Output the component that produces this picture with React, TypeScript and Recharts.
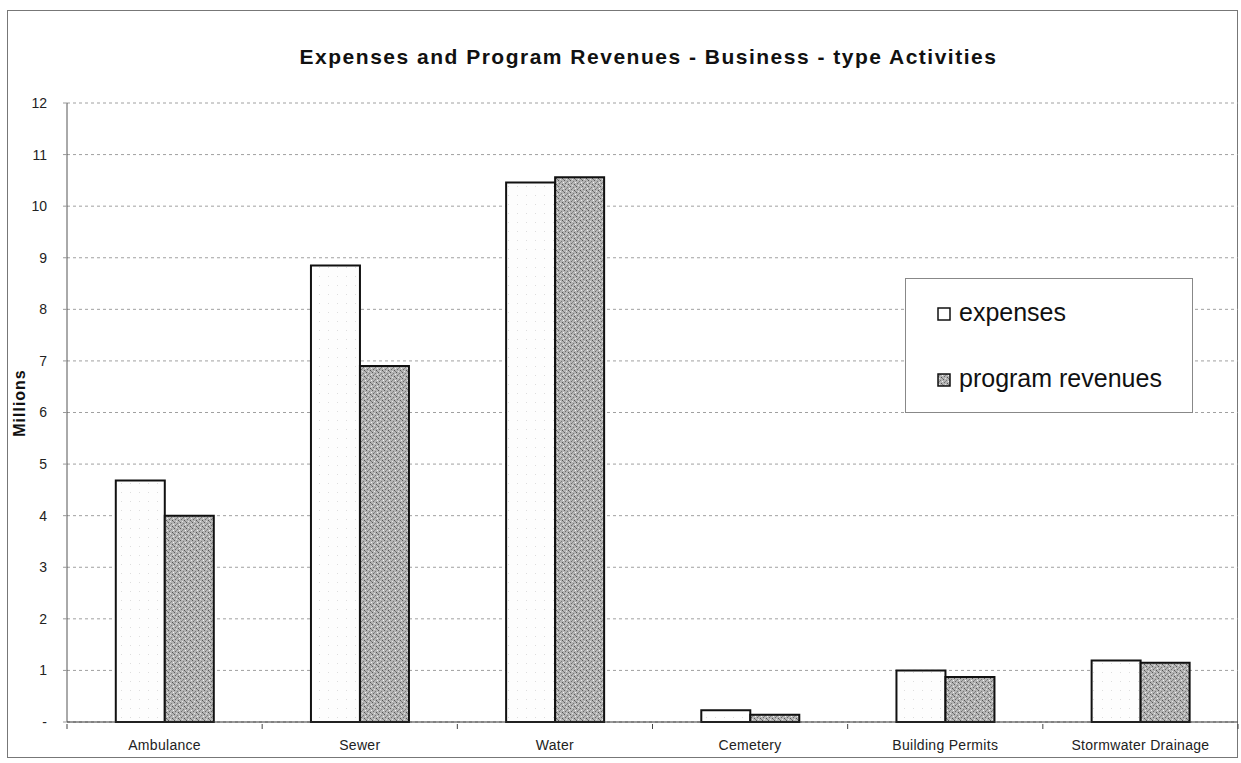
import React from 'react';
import { BarChart, Bar, XAxis, YAxis, CartesianGrid, Legend } from 'recharts';

const categories = ['Ambulance', 'Sewer', 'Water', 'Cemetery', 'Building Permits', 'Stormwater Drainage'];
const expenses = [4.68, 8.85, 10.46, 0.23, 1.0, 1.19];
const programRevenues = [4.0, 6.9, 10.56, 0.14, 0.87, 1.15];
const yTicks = [0, 1, 2, 3, 4, 5, 6, 7, 8, 9, 10, 11, 12];

const data = categories.map((name, i) => ({
  name,
  expenses: expenses[i],
  revenues: programRevenues[i],
}));

const FONT = '"Liberation Sans", Arial, sans-serif';

// x-axis tick: label under the category, tick marks on the category boundaries
const CategoryTick = (props: any) => {
  const { x, y, payload, index, visibleTicksCount, width } = props;
  const half = width / visibleTicksCount / 2;
  return (
    <g>
      <line x1={x - half} y1={y - 6} x2={x - half} y2={y - 1} stroke="#444" />
      {index === visibleTicksCount - 1 && (
        <line x1={x + half} y1={y - 6} x2={x + half} y2={y - 1} stroke="#444" />
      )}
      <text x={x} y={y + 20} textAnchor="middle" fontSize={14} fill="#222" fontFamily={FONT} letterSpacing={0.3}>
        {payload.value}
      </text>
    </g>
  );
};

const Swatch = ({ fill }: { fill: string }) => (
  <svg width={14} height={14} style={{ marginRight: 8, marginTop: 3, flex: 'none' }}>
    <rect x={1} y={1} width={12} height={12} fill={fill} stroke="#111" strokeWidth={1.5} />
  </svg>
);

const LegendBox = () => (
  <div
    style={{
      width: 288,
      height: 135,
      border: '1px solid #888',
      background: '#fff',
      boxSizing: 'border-box',
      fontFamily: FONT,
      fontSize: 25,
      color: '#111',
      paddingLeft: 31,
      paddingTop: 18,
    }}
  >
    <div style={{ display: 'flex', alignItems: 'center', height: 30 }}>
      <Swatch fill="#fff" />
      expenses
    </div>
    <div style={{ display: 'flex', alignItems: 'center', height: 30, marginTop: 36 }}>
      <Swatch fill="url(#stipple)" />
      program revenues
    </div>
  </div>
);

export default function App() {
  return (
    <div style={{ position: 'absolute', left: 0, top: 0, width: 1241, height: 763, background: '#fff' }}>
      <div
        style={{
          position: 'absolute',
          left: 7,
          top: 10,
          width: 1231,
          height: 748,
          border: '1px solid #777',
          boxSizing: 'border-box',
        }}
      />
      <div
        style={{
          position: 'absolute',
          left: 28,
          top: 45,
          width: 1241,
          textAlign: 'center',
          fontFamily: FONT,
          fontWeight: 'bold',
          fontSize: 21,
          letterSpacing: 1.5,
          color: '#111',
        }}
      >
        Expenses and Program Revenues - Business - type Activities
      </div>
      <div
        style={{
          position: 'absolute',
          left: 20,
          top: 403,
          transform: 'translate(-50%, -50%) rotate(-90deg)',
          fontFamily: FONT,
          fontWeight: 'bold',
          fontSize: 16,
          letterSpacing: 1,
          color: '#111',
          whiteSpace: 'nowrap',
        }}
      >
        Millions
      </div>
      <div style={{ position: 'absolute', left: 0, top: 0 }}>
        <BarChart
          width={1241}
          height={763}
          data={data}
          margin={{ top: 103, right: 3, bottom: 11, left: 8 }}
          barCategoryGap="25%"
          barGap={0}
        >
          <defs>
            <pattern id="stipple" width="6" height="6" patternUnits="userSpaceOnUse">
              <rect width="6" height="6" fill="#b4b4b4" />
              <rect x="0" y="0" width="1" height="1" fill="#5a5a5a" />
              <rect x="3" y="1" width="1" height="1" fill="#777" />
              <rect x="1" y="3" width="1" height="1" fill="#6a6a6a" />
              <rect x="4" y="4" width="1" height="1" fill="#555" />
              <rect x="5" y="2" width="1" height="1" fill="#f2f2f2" />
              <rect x="2" y="5" width="1" height="1" fill="#e4e4e4" />
              <rect x="2" y="2" width="1" height="1" fill="#888" />
              <rect x="5" y="5" width="1" height="1" fill="#7d7d7d" />
            </pattern>
            <pattern id="speck" width="9" height="9" patternUnits="userSpaceOnUse">
              <rect width="9" height="9" fill="#fdfdfd" />
              <rect x="4" y="6" width="1" height="1" fill="#ddd" />
            </pattern>
          </defs>
          <CartesianGrid vertical={false} stroke="#a0a0a0" strokeDasharray="3 3" />
          <XAxis
            dataKey="name"
            axisLine={{ stroke: '#333' }}
            tickLine={false}
            tick={<CategoryTick />}
            height={30}
            interval={0}
          />
          <YAxis
            domain={[0, 12]}
            ticks={yTicks}
            interval={0}
            width={59}
            axisLine={{ stroke: '#555' }}
            tickLine={{ stroke: '#999' }}
            tickSize={4}
            tickMargin={16}
            tickFormatter={(v: number) => (v === 0 ? '-' : String(v))}
            tick={{ fontSize: 14, fill: '#222', fontFamily: FONT }}
          />
          <Legend
            layout="horizontal"
            verticalAlign="middle"
            align="center"
            content={<LegendBox />}
            wrapperStyle={{ position: 'absolute', left: 905, top: 278, width: 288, height: 135 }}
          />
          <Bar dataKey="expenses" name="expenses" fill="url(#speck)" stroke="#111" strokeWidth={2} isAnimationActive={false} />
          <Bar dataKey="revenues" name="program revenues" fill="url(#stipple)" stroke="#111" strokeWidth={2} isAnimationActive={false} />
        </BarChart>
      </div>
    </div>
  );
}
